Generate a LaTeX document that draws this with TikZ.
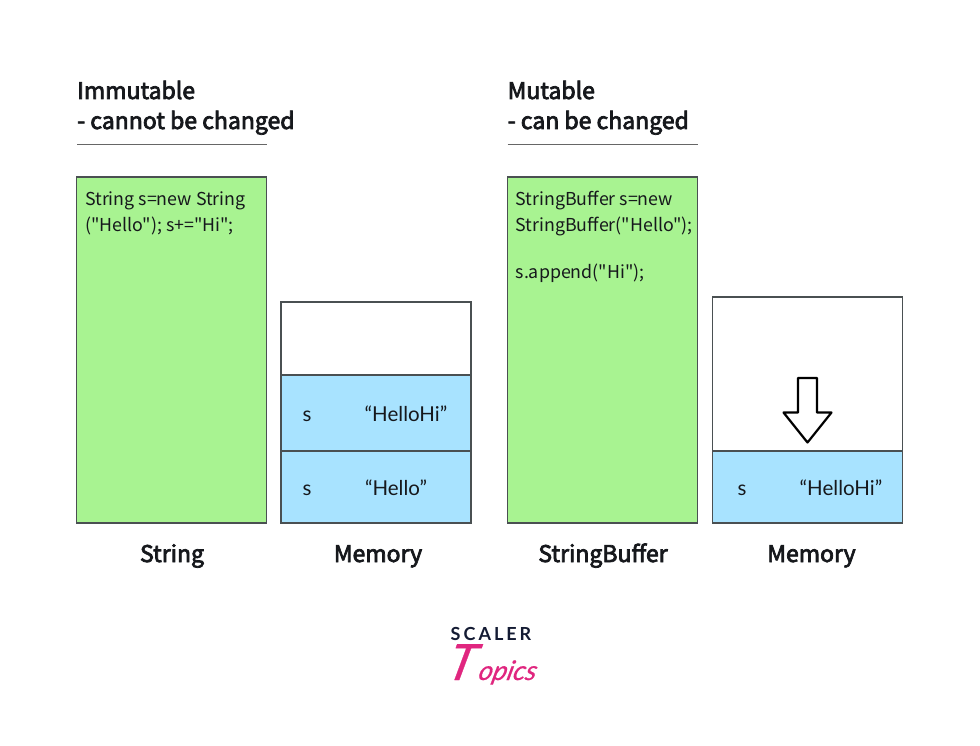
\documentclass[tikz,border=0pt]{standalone}
\usepackage{fontspec}
\newfontfamily\plainfont{Noto Sans CJK JP}
\newfontfamily\strongfont[FakeBold=3.2]{Noto Sans CJK JP}
\newfontfamily\cellfont{Lato}
\newfontfamily\logofont{Lato}
\newfontfamily\topicsfont[FakeSlant=0.25,FakeBold=0.6]{Lato Italic}
\definecolor{codegreen}{HTML}{A8F391}
\definecolor{memblue}{HTML}{A8E3FF}
\definecolor{edgegray}{HTML}{4A5052}
\definecolor{inkdark}{HTML}{16181C}
\definecolor{logopink}{HTML}{E0267F}
\definecolor{logonavy}{HTML}{141B33}
\tikzset{
  x=1pt,y=-1pt,
  cell/.style={draw=edgegray,line width=1.1pt},
  codebox/.style={cell,fill=codegreen},
  membox/.style={cell,fill=memblue},
  emptybox/.style={cell,fill=white},
  heading/.style={anchor=base west,inner sep=0pt,font=\strongfont\fontsize{23}{30}\selectfont,text=inkdark},
  caption/.style={anchor=base,inner sep=0pt,font=\strongfont\fontsize{23}{28}\selectfont,text=inkdark},
  codetext/.style={anchor=base west,inner sep=0pt,font=\plainfont\fontsize{17.8}{25}\selectfont,text=inkdark},
  memtext/.style={anchor=base,inner sep=0pt,font=\cellfont\fontsize{20.5}{24}\selectfont,text=inkdark},
  rulerline/.style={draw=gray!80!black,line width=0.9pt},
}
\newcommand{\tbox}[6]{\path[#2] (#3,#4) rectangle (#5,#6) node[pos=.5,inner sep=0pt] (#1) {};}
\begin{document}
\begin{tikzpicture}
\useasboundingbox (0,0) rectangle (980,746);
\fill[white] (0,0) rectangle (980,746);

% left column headings
\node[heading] (h1a) at (77,99) {Immutable};
\node[heading] (h1b) at (77,129) {- cannot be changed};
\draw[rulerline] (77,144.5) -- (266.5,144.5);

% right column headings
\node[heading] (h2a) at (507.5,99) {Mutable};
\node[heading] (h2b) at (507.5,129) {- can be changed};
\draw[rulerline] (507.5,144.5) -- (697.5,144.5);

% code panels
\tbox{strpanel}{codebox}{76.5}{177}{266.5}{523}
\tbox{bufpanel}{codebox}{507.5}{177}{697.5}{523}
\node[codetext] (codeA) at (85,206) {String s=new String};
\node[codetext] (codeB) at (85,231.5) {("Hello"); s+="Hi";};
\node[codetext] (codeC) at (515.5,206) {StringBuffer s=new};
\node[codetext] (codeD) at (515.5,231.5) {StringBuffer("Hello");};
\node[codetext] (codeE) at (515.5,278) {s.append("Hi");};

% memory of the immutable string
\tbox{memA}{emptybox}{281}{302}{471}{375}
\tbox{memB}{membox}{281}{375}{471}{451}
\tbox{memC}{membox}{281}{451}{471}{523}
\node[memtext] (sB) at (307,421) {s};
\node[memtext] (vB) at (406,421) {“HelloHi”};
\node[memtext] (sC) at (307,495) {s};
\node[memtext] (vC) at (396,495) {“Hello”};

% memory of the mutable buffer
\tbox{memD}{emptybox}{712.5}{297}{902.5}{451}
\tbox{memE}{membox}{712.5}{451}{902.5}{523}
\node[memtext] (sE) at (742,495) {s};
\node[memtext] (vE) at (841,495) {“HelloHi”};

% block arrow pointing into the buffer cell
\draw[line width=2.2pt,line join=round,draw=black,fill=white]
  (798,378) -- (817,378) -- (817,412.5) -- (831.5,412.5) -- (807.5,442.5)
  -- (783.5,412.5) -- (798,412.5) -- cycle;

% captions
\node[caption] (c1) at (172,562) {String};
\node[caption] (c2) at (378,562) {Memory};
\node[caption] (c3) at (603,562) {StringBuffer};
\node[caption] (c4) at (811.5,562) {Memory};

% logo
\node[anchor=base,inner sep=0pt,font=\logofont\fontsize{18}{18}\selectfont\bfseries,text=logonavy] (logoA) at (491,640) {S\,C\,A\,L\,E\,R};
\node[anchor=base,inner sep=0pt,font=\topicsfont\fontsize{27}{27}\selectfont,text=logopink] (logoB) at (490,680) {{\fontsize{50}{50}\selectfont T}\kern5pt opics};
\end{tikzpicture}
\end{document}
